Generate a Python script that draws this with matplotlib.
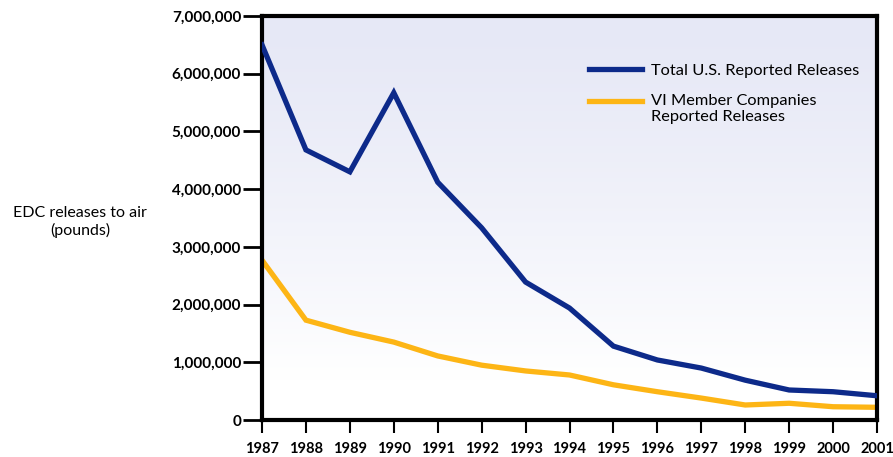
import matplotlib
matplotlib.use("Agg")
import matplotlib.pyplot as plt
import numpy as np
from matplotlib.ticker import FuncFormatter

years = list(range(1987, 2002))
total_us = [6500000, 4680000, 4300000, 5670000, 4120000, 3330000, 2390000, 1940000,
            1280000, 1040000, 900000, 690000, 520000, 490000, 420000]
vi_member = [2770000, 1730000, 1520000, 1350000, 1110000, 950000, 850000, 780000,
             610000, 490000, 380000, 260000, 290000, 230000, 220000]
yticks = [0, 1000000, 2000000, 3000000, 4000000, 5000000, 6000000, 7000000]

plt.rcParams['font.family'] = ['Lato', 'DejaVu Sans']

fig = plt.figure(figsize=(8.93, 4.57), dpi=100)
ax = fig.add_axes([262/893, 37/457, 615/893, 404/457])

ax.set_xlim(1987, 2001)
ax.set_ylim(0, 7000000)

# background gradient
top = np.array([230, 232, 246]) / 255.0
bot = np.array([255, 255, 255]) / 255.0
n = 256
t = np.linspace(0, 1, n)  # 0 at top
t2 = np.clip(t / 0.9, 0, 1) ** 1.3
grad = top[None, :] * (1 - t2[:, None]) + bot[None, :] * t2[:, None]
grad = grad[:, None, :]
ax.imshow(grad, extent=[1987, 2001, 0, 7000000], aspect='auto', zorder=0,
          interpolation='bilinear')

ax.plot(years, total_us, color='#0d2a8a', lw=3.8, label='Total U.S. Reported Releases',
        zorder=3, solid_joinstyle='miter')
ax.plot(years, vi_member, color='#fdb515', lw=3.8,
        label='VI Member Companies\nReported Releases', zorder=2, solid_joinstyle='miter')

for s in ax.spines.values():
    s.set_linewidth(3)
    s.set_color('black')

ax.set_xticks(years)
ax.set_yticks(yticks)
ax.yaxis.set_major_formatter(FuncFormatter(lambda v, p: f"{int(v):,}"))
ax.tick_params(axis='y', direction='out', length=14, width=2, pad=1,
               labelsize=11, colors='black')
ax.tick_params(axis='x', direction='out', length=9, width=1.5, pad=7,
               labelsize=10.5)
for lab in ax.get_yticklabels() + ax.get_xticklabels():
    lab.set_fontweight('bold')

fig.text(80/893, 1 - 222/457, "EDC releases to air\n(pounds)", ha='center', va='center',
         fontsize=11.5, linespacing=1.2)

leg = ax.legend(loc='upper left', bbox_to_anchor=(0.508, 0.92), frameon=False,
                fontsize=11.8, handlelength=3.2, handletextpad=0.6, labelspacing=1.0)
# align the second handle with the first line of its label
legline = leg.get_lines()[1]
yd = np.asarray(legline.get_ydata(), dtype=float)
legline.set_ydata(yd + 5.5)

fig.savefig("out.png", dpi=100)
